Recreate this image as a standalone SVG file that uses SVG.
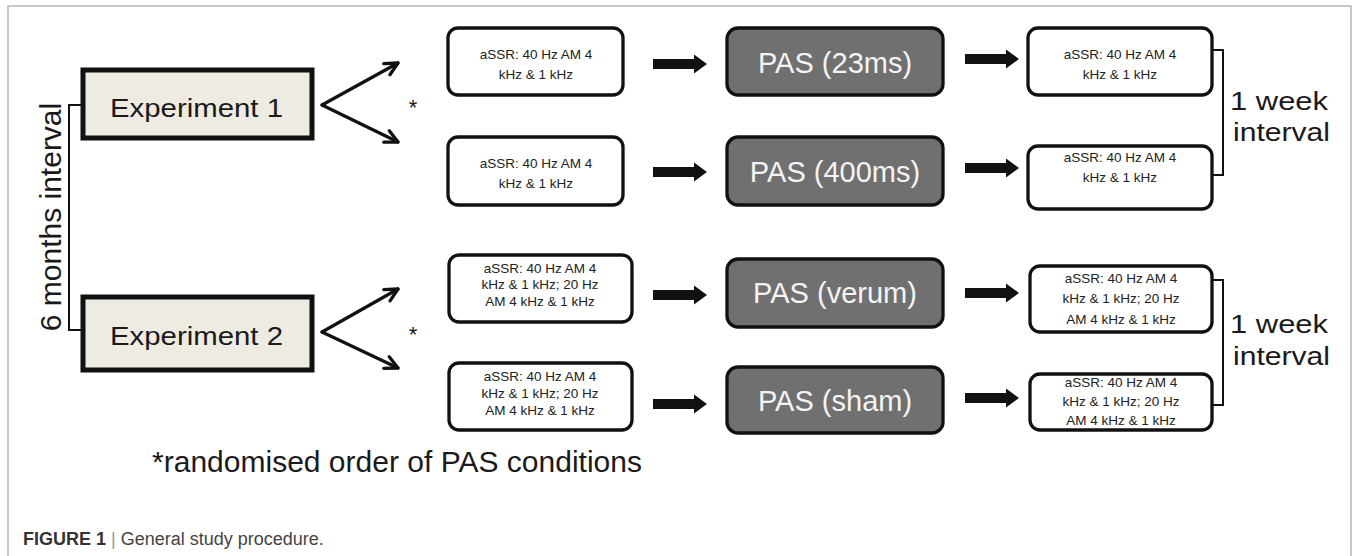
<svg xmlns="http://www.w3.org/2000/svg" width="1359" height="556" viewBox="0 0 1359 556">
<defs>
<style>
.frame{fill:none;stroke:#b8b8b8;stroke-width:1.5}
.exp{fill:#eeebe2;stroke:#111;stroke-width:5}
.expt{font-family:"Liberation Sans",Arial,sans-serif;font-size:26px;fill:#1a1a1a}
.sm{fill:#fff;stroke:#111;stroke-width:3.3}
.smt{font-family:"Liberation Sans",Arial,sans-serif;font-size:13.5px;fill:#222;text-anchor:middle}
.pas{fill:#707070;stroke:#111;stroke-width:3.3}
.past{font-family:"Liberation Sans",Arial,sans-serif;font-size:29px;fill:#f4f4f4;text-anchor:middle}
.big{font-family:"Liberation Sans",Arial,sans-serif;fill:#1a1a1a}
.line{fill:none;stroke:#111;stroke-width:2}
.chev{fill:none;stroke:#111;stroke-width:3.2;stroke-linecap:round;stroke-linejoin:round}
.thick{fill:#111}
.cap{font-family:"Liberation Sans",Arial,sans-serif;font-size:18px;fill:#3a3a3a}
</style>
<marker id="open" viewBox="0 0 12 12" refX="10.5" refY="6" markerWidth="17" markerHeight="17" markerUnits="userSpaceOnUse" orient="auto">
<path d="M1.5,1.5 L10.5,6 L1.5,10.5" fill="none" stroke="#111" stroke-width="2.3" stroke-linecap="round" stroke-linejoin="round"/>
</marker>
<path id="tarrow" d="M0,-5 H41 V-9.5 L54,0 L41,9.5 V5 H0 Z"/>
</defs>

<g id="frame">
<path class="frame" d="M8,556 V6 H1351 V556"/>
</g>

<g id="connectors">
<path class="line" d="M83,105 H69 V330 H83"/>
<path class="chev" d="M322,105 L398,63" marker-end="url(#open)"/>
<path class="chev" d="M322,105 L398,142" marker-end="url(#open)"/>
<path class="chev" d="M322,332 L398,289" marker-end="url(#open)"/>
<path class="chev" d="M322,332 L398,368" marker-end="url(#open)"/>
<use href="#tarrow" class="thick" x="653" y="64"/>
<use href="#tarrow" class="thick" x="653" y="172"/>
<use href="#tarrow" class="thick" x="653" y="295"/>
<use href="#tarrow" class="thick" x="653" y="404"/>
<use href="#tarrow" class="thick" x="965" y="59"/>
<use href="#tarrow" class="thick" x="965" y="168"/>
<use href="#tarrow" class="thick" x="965" y="293"/>
<use href="#tarrow" class="thick" x="965" y="398"/>
<path class="line" d="M1212,50 H1223 V175 H1212"/>
<path class="line" d="M1212,280 H1223 V405 H1212"/>
</g>

<g id="label-6months">
<text class="big" font-size="30" text-anchor="middle" transform="translate(61,217) rotate(-90)">6 months interval</text>
</g>

<g id="exp1">
<rect class="exp" x="83" y="70" width="229" height="68"/>
<text class="expt" x="110" y="117" textLength="173" lengthAdjust="spacingAndGlyphs">Experiment 1</text>
</g>
<g id="exp2">
<rect class="exp" x="83" y="297" width="229" height="73"/>
<text class="expt" x="110" y="345" textLength="173" lengthAdjust="spacingAndGlyphs">Experiment 2</text>
</g>

<g id="star1"><text class="big" font-size="22" x="413" y="115" text-anchor="middle">*</text></g>
<g id="star2"><text class="big" font-size="22" x="413" y="342" text-anchor="middle">*</text></g>

<g id="pre1">
<rect class="sm" x="448" y="28" width="175" height="67" rx="10"/>
<text class="smt" x="536" y="59">aSSR: 40 Hz AM 4</text>
<text class="smt" x="536" y="79">kHz &amp; 1 kHz</text>
</g>
<g id="pre2">
<rect class="sm" x="448" y="137" width="175" height="68" rx="10"/>
<text class="smt" x="536" y="168">aSSR: 40 Hz AM 4</text>
<text class="smt" x="536" y="188">kHz &amp; 1 kHz</text>
</g>
<g id="pre3">
<rect class="sm" x="449" y="255" width="183" height="67" rx="10"/>
<text class="smt" x="540" y="273">aSSR: 40 Hz AM 4</text>
<text class="smt" x="540" y="289">kHz &amp; 1 kHz; 20 Hz</text>
<text class="smt" x="540" y="306">AM 4 kHz &amp; 1 kHz</text>
</g>
<g id="pre4">
<rect class="sm" x="449" y="363" width="183" height="67" rx="10"/>
<text class="smt" x="540" y="381">aSSR: 40 Hz AM 4</text>
<text class="smt" x="540" y="398">kHz &amp; 1 kHz; 20 Hz</text>
<text class="smt" x="540" y="415">AM 4 kHz &amp; 1 kHz</text>
</g>

<g id="pas1">
<rect class="pas" x="727" y="28" width="216" height="67" rx="11"/>
<text class="past" x="835" y="73">PAS (23ms)</text>
</g>
<g id="pas2">
<rect class="pas" x="727" y="137" width="216" height="68" rx="11"/>
<text class="past" x="835" y="182">PAS (400ms)</text>
</g>
<g id="pas3">
<rect class="pas" x="727" y="259" width="216" height="68" rx="11"/>
<text class="past" x="835" y="303">PAS (verum)</text>
</g>
<g id="pas4">
<rect class="pas" x="727" y="367" width="216" height="66" rx="11"/>
<text class="past" x="835" y="411">PAS (sham)</text>
</g>

<g id="post1">
<rect class="sm" x="1028" y="28" width="184" height="67" rx="10"/>
<text class="smt" x="1120" y="59">aSSR: 40 Hz AM 4</text>
<text class="smt" x="1120" y="79">kHz &amp; 1 kHz</text>
</g>
<g id="post2">
<rect class="sm" x="1028" y="146" width="184" height="63" rx="10"/>
<text class="smt" x="1120" y="162">aSSR: 40 Hz AM 4</text>
<text class="smt" x="1120" y="182">kHz &amp; 1 kHz</text>
</g>
<g id="post3">
<rect class="sm" x="1030" y="266" width="182" height="66" rx="10"/>
<text class="smt" x="1121" y="283">aSSR: 40 Hz AM 4</text>
<text class="smt" x="1121" y="303">kHz &amp; 1 kHz; 20 Hz</text>
<text class="smt" x="1121" y="324">AM 4 kHz &amp; 1 kHz</text>
</g>
<g id="post4">
<rect class="sm" x="1030" y="374" width="182" height="56" rx="10"/>
<text class="smt" x="1121" y="387">aSSR: 40 Hz AM 4</text>
<text class="smt" x="1121" y="406">kHz &amp; 1 kHz; 20 Hz</text>
<text class="smt" x="1121" y="425">AM 4 kHz &amp; 1 kHz</text>
</g>

<g id="week1">
<text class="big" font-size="26" x="1230" y="110" textLength="98" lengthAdjust="spacingAndGlyphs">1 week</text>
<text class="big" font-size="26" x="1233" y="141" textLength="97" lengthAdjust="spacingAndGlyphs">interval</text>
</g>
<g id="week2">
<text class="big" font-size="26" x="1230" y="333" textLength="98" lengthAdjust="spacingAndGlyphs">1 week</text>
<text class="big" font-size="26" x="1233" y="365" textLength="97" lengthAdjust="spacingAndGlyphs">interval</text>
</g>

<g id="note">
<text class="big" font-size="30" x="152" y="472" textLength="490">*randomised order of PAS conditions</text>
</g>

<g id="caption">
<text class="cap" x="23" y="545"><tspan font-weight="bold" fill="#333">FIGURE 1</tspan><tspan fill="#999"> | </tspan><tspan fill="#444">General study procedure.</tspan></text>
</g>
</svg>
